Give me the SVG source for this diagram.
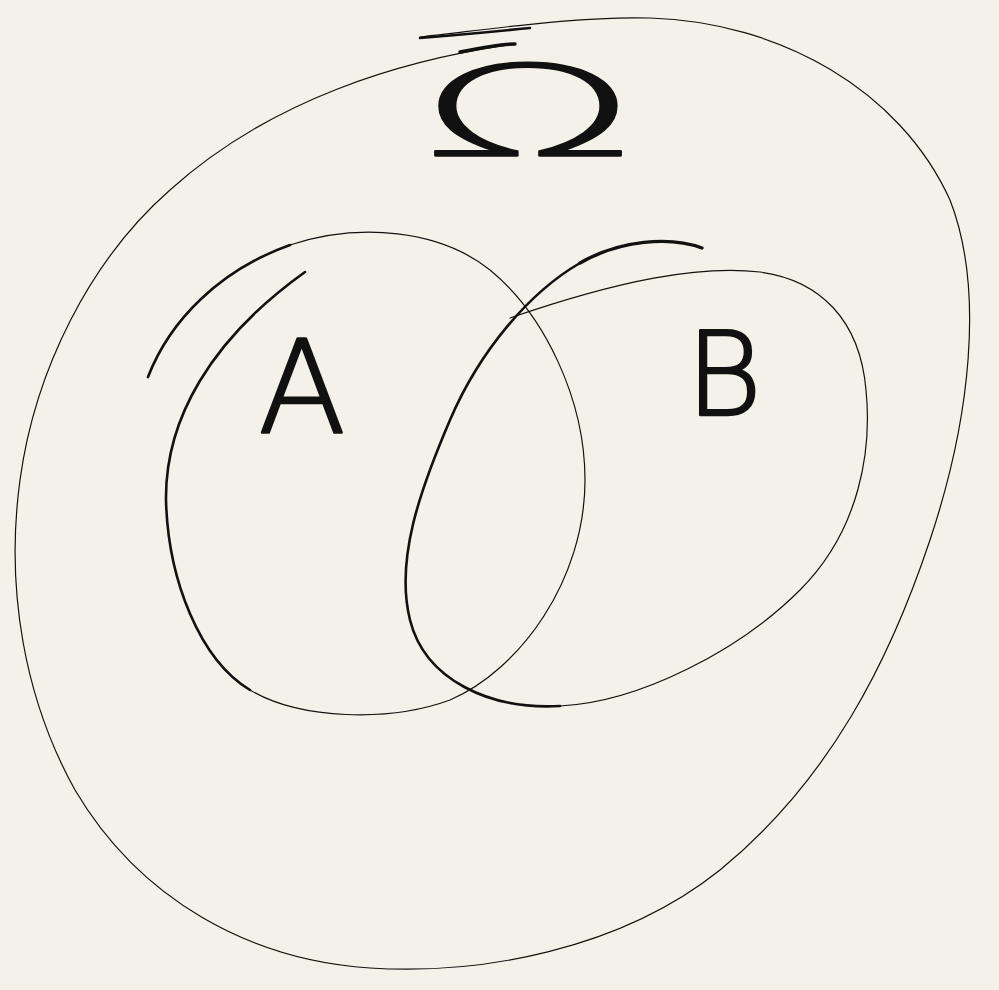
<svg xmlns="http://www.w3.org/2000/svg" width="999" height="990" viewBox="0 0 999 990">
  <style>
    .ink { fill: none; stroke: #111; stroke-linecap: round; stroke-linejoin: round; }
    .thin { stroke-width: 1.2; }
    .mid { stroke-width: 2.6; }
    .thick { stroke-width: 3.4; }
    .lbl { font-family: "DejaVu Sans", "Liberation Sans", sans-serif; font-weight: 200; fill: #111; stroke: #111; stroke-width: 2.6; stroke-linejoin: round; text-anchor: middle; }
  </style>
  <rect width="999" height="990" fill="#f4f1e8"/>
  <g id="universe">
    <path class="ink thin" d="M420,37 C500,28 580,16 650,18 C780,22 900,90 950,200 C985,290 970,420 930,540 C890,660 830,780 720,870 C620,950 480,975 370,968 C250,960 140,900 75,790 C25,700 5,590 20,480 C35,370 90,260 170,190 C270,100 400,60 515,44"/>
    <path class="ink mid" d="M420,38 C470,34 500,31 530,28"/>
    <path class="ink thick" d="M460,52 C485,47 503,44 515,44"/>
    <text class="lbl" transform="translate(528,156) scale(2.25,1)" font-size="126" style="stroke-width:1.6">Ω</text>
  </g>
  <g id="set-A">
    <path class="ink mid" d="M148,377 C170,320 220,270 290,245"/>
    <path class="ink thin" d="M290,245 C360,222 440,230 490,270 C545,315 585,400 585,480 C585,580 520,670 450,700 C390,722 300,720 250,690"/>
    <path class="ink mid" d="M250,690 C200,660 168,580 166,500 C165,420 210,340 305,272"/>
    <text class="lbl" x="302" y="432" font-size="128">A</text>
  </g>
  <g id="set-B">
    <path class="ink thick" d="M702,248 C670,236 620,240 580,263"/>
    <path class="ink mid" d="M580,263 C530,292 480,350 450,420 C420,490 395,560 410,620 C425,680 490,710 560,706"/>
    <path class="ink thin" d="M560,706 C640,702 740,650 800,590 C860,530 872,450 866,390 C860,320 820,280 760,272 C700,265 620,280 510,318"/>
    <text class="lbl" x="724" y="415" font-size="116">B</text>
  </g>
</svg>
